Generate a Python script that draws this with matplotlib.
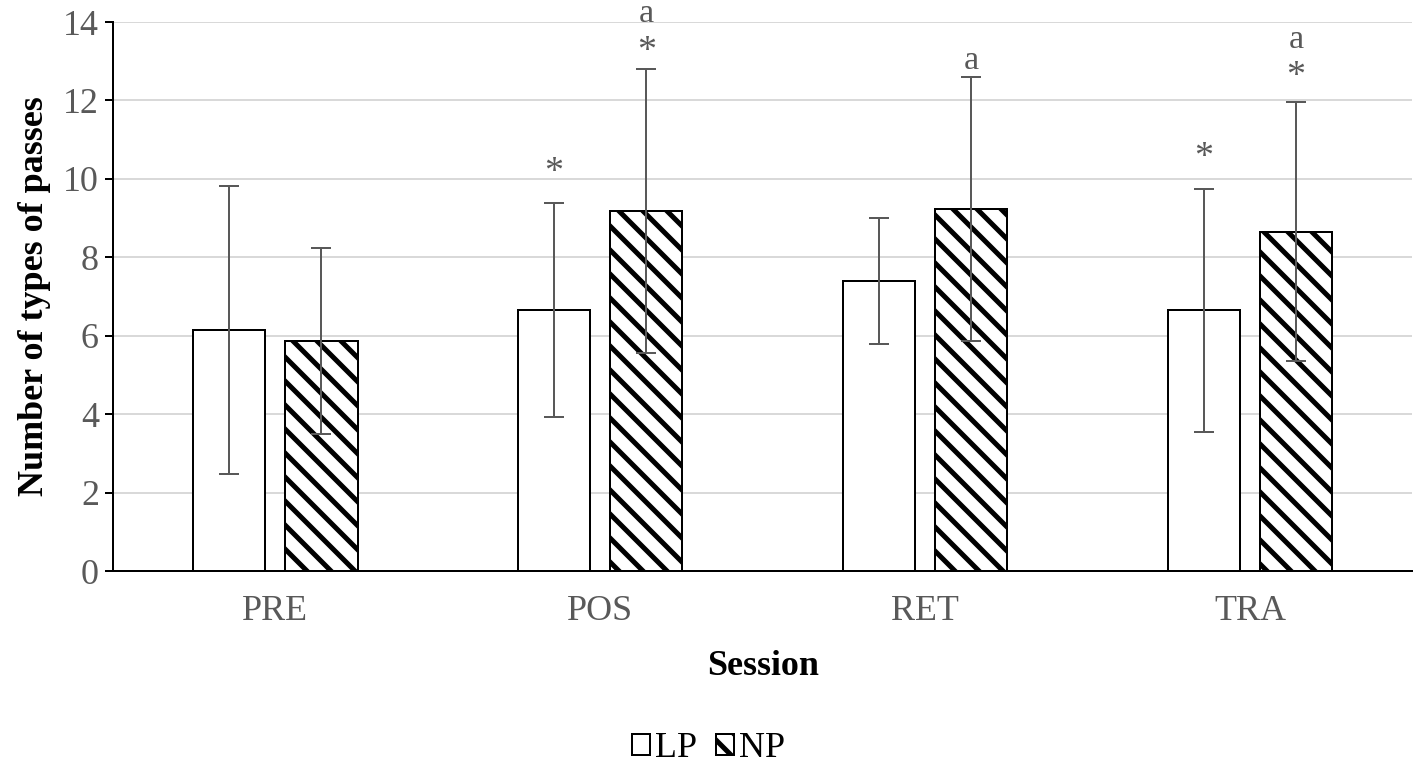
import numpy as np
import matplotlib.pyplot as plt

plt.rcParams['font.family'] = ['Liberation Serif', 'DejaVu Serif']
plt.rcParams['hatch.linewidth'] = 5

sessions = ['PRE', 'POS', 'RET', 'TRA']
lp_mean = [6.15, 6.65, 7.40, 6.65]
lp_sd = [3.68, 2.73, 1.60, 3.10]
np_mean = [5.87, 9.18, 9.23, 8.65]
np_sd = [2.37, 3.62, 3.37, 3.30]

# marks above the error bars: (session index, group, y, text)
marks = [
    (1, 'LP', 10.15, '*'),
    (1, 'NP', 13.25, '*'),
    (1, 'NP', 14.2, 'a'),
    (2, 'NP', 13.0, 'a'),
    (3, 'LP', 10.55, '*'),
    (3, 'NP', 12.6, '*'),
    (3, 'NP', 13.55, 'a'),
]

# 72 dpi so that one hatch repeat (1 inch) gives the dense stripes of the original
fig = plt.figure(figsize=(1417 / 72, 767 / 72), dpi=72)
ax = fig.add_axes([0.0797, 0.2555, 0.917, 0.7158])

x = np.arange(len(sessions))
w = 0.222
off = 0.142
grey = '#595959'

ax.bar(x - off, lp_mean, w, color='white', edgecolor='black', linewidth=2, label='LP', zorder=3)
ax.bar(x + off, np_mean, w, color='white', edgecolor='black', linewidth=2, hatch='\\', label='NP', zorder=3)
ax.errorbar(x - off, lp_mean, yerr=lp_sd, fmt='none', ecolor=grey, elinewidth=2, capsize=10, capthick=2, zorder=4)
ax.errorbar(x + off, np_mean, yerr=np_sd, fmt='none', ecolor=grey, elinewidth=2, capsize=10, capthick=2, zorder=4)

for i, g, y, t in marks:
    xx = i - off if g == 'LP' else i + off
    ax.text(xx, y, t, ha='center', va='center', fontsize=38 if t == '*' else 34, color=grey, clip_on=False)

ax.set_xlim(-0.5, 3.5)
ax.set_ylim(0, 14)
ax.set_yticks(range(0, 15, 2))
ax.set_xticks(x)
ax.set_xticklabels(sessions)
ax.tick_params(axis='y', labelsize=36, labelcolor=grey, length=8, width=2, direction='out', pad=6)
ax.tick_params(axis='x', labelsize=36, labelcolor=grey, length=0, pad=24)
ax.grid(axis='y', color='#d9d9d9', linewidth=2, zorder=0)
ax.set_axisbelow(True)
for s in ['top', 'right']:
    ax.spines[s].set_visible(False)
ax.spines['left'].set_linewidth(2)
ax.spines['bottom'].set_linewidth(2)

ax.set_ylabel('Number of types of passes', fontsize=36, fontweight='bold', labelpad=12)
ax.set_xlabel('Session', fontsize=36, fontweight='bold', labelpad=22)

fig.legend(loc='lower center', bbox_to_anchor=(0.5, -0.04), ncol=2, frameon=False, fontsize=36,
           handlelength=0.5, handleheight=0.5, handletextpad=0.15, columnspacing=0.5)

fig.savefig('out.png', dpi=72)
